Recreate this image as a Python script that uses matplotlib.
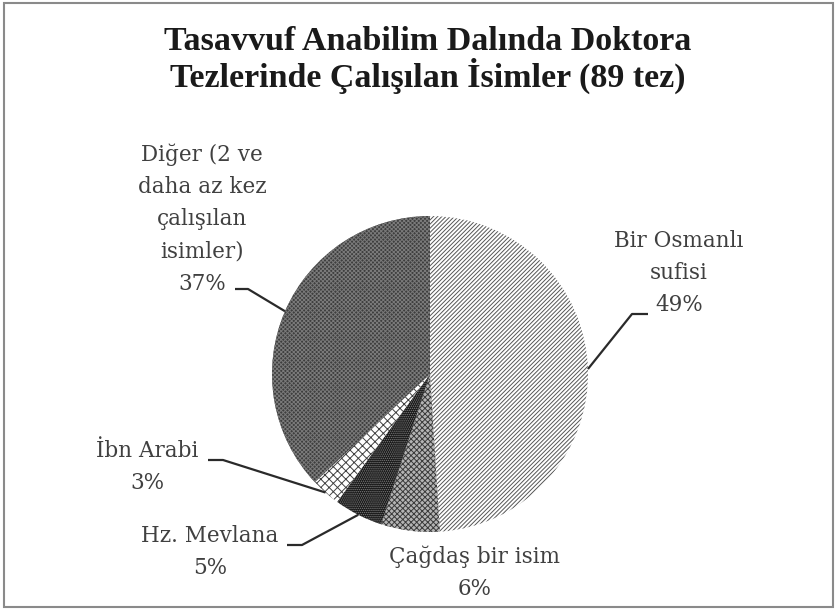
import numpy as np
import matplotlib
matplotlib.use('Agg')
import matplotlib.pyplot as plt
from matplotlib.patches import Rectangle

# data (89 theses)
labels = ['Bir Osmanlı\nsufisi', 'Çağdaş bir isim', 'Hz. Mevlana', 'İbn Arabi',
          'Diğer (2 ve\ndaha az kez\nçalışılan\nisimler)']
percents = [49, 6, 5, 3, 37]
title = 'Tasavvuf Anabilim Dalında Doktora\nTezlerinde Çalışılan İsimler (89 tez)'

# styles (grayscale print look)
faces = ['white', '#b4b4b4', '#141414', 'white', '#3e3e3e']
hatch_colors = ['#555555', '#3a3a3a', '#808080', '#404040', '#7a7a7a']
hatches = ['////////', 'xxxxxx', '........', 'xxxx', 'xxxxxxxx']

W, H = 837, 611
plt.rcParams['hatch.linewidth'] = 0.7
plt.rcParams['font.family'] = ['DejaVu Serif']

fig = plt.figure(figsize=(W / 100, H / 100), dpi=100)
ax = fig.add_axes([0, 0, 1, 1])

cx, cy, r = 430, H - 374, 158
wedges, _ = ax.pie(percents, startangle=90, counterclock=False,
                   center=(cx, cy), radius=r, colors=faces,
                   wedgeprops=dict(linewidth=0))
for w, h, hc in zip(wedges, hatches, hatch_colors):
    w.set_hatch(h)
    w.set_edgecolor(hc)

ax.set_xlim(0, W)
ax.set_ylim(0, H)
ax.set_aspect('equal')
ax.axis('off')

# label placement (pixel coords, y from top)
label_pos = [(679, 273), (475, 573), (210, 552), (147, 467), (202, 219)]
# leader: (end near text, elbow)
leaders = [((648, 314), (632, 314)), None, ((287, 545), (302, 545)),
           ((208, 460), (223, 460)), ((235, 289), (248, 289))]

cum = np.cumsum([0] + percents)
mid = np.radians(90 - 360 * (cum[:-1] + cum[1:]) / 2 / 100)

for i, (lab, pct) in enumerate(zip(labels, percents)):
    x, y = label_pos[i]
    ax.text(x, H - y, f'{lab}\n{pct}%', ha='center', va='center',
            fontsize=15.5, color='#404040', linespacing=1.6)
    if leaders[i] is not None:
        (x0, y0), (x1, y1) = leaders[i]
        px = cx + r * np.cos(mid[i])
        py = cy + r * np.sin(mid[i])
        ax.plot([x0, x1, px], [H - y0, H - y1, py], color='#2a2a2a', lw=1.6,
                solid_capstyle='butt')

ax.text(428, H - 60, title, ha='center', va='center', fontsize=24.5,
        fontweight='bold', color='#1a1a1a', linespacing=1.05,
        family='Liberation Serif')

fig.add_artist(Rectangle((4 / W, 1 - 607 / H), 829 / W, 604 / H,
                         transform=fig.transFigure, fill=False,
                         edgecolor='#8a8a8a', lw=1.5))

fig.savefig('out.png', dpi=100)
